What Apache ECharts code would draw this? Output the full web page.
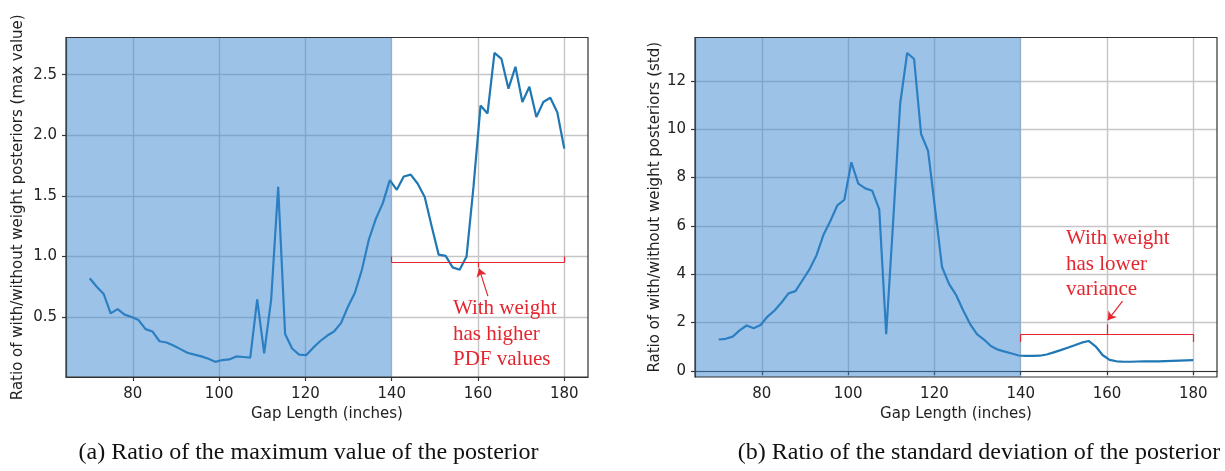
<!DOCTYPE html>
<html>
<head>
<meta charset="utf-8">
<script src="https://cdn.jsdelivr.net/npm/echarts@6/dist/echarts.min.js"></script>
<style>
  html, body { margin: 0; padding: 0; background: #ffffff; }
  #chart { width: 1225px; height: 471px; }
</style>
</head>
<body>
<div id="chart"></div>
<script>
// Gap lengths (inches) at which both ratios were evaluated
const gapLengths = [
  70.00, 71.62, 73.24, 74.85, 76.47, 78.09, 79.71, 81.32, 82.94, 84.56,
  86.18, 87.79, 89.41, 91.03, 92.65, 94.26, 95.88, 97.50, 99.12, 100.74,
  102.35, 103.97, 105.59, 107.21, 108.82, 110.44, 112.06, 113.68, 115.29, 116.91,
  118.53, 120.15, 121.76, 123.38, 125.00, 126.62, 128.24, 129.85, 131.47, 133.09,
  134.71, 136.32, 137.94, 139.56, 141.18, 142.79, 144.41, 146.03, 147.65, 149.26,
  150.88, 152.50, 154.12, 155.74, 157.35, 158.97, 160.59, 162.21, 163.82, 165.44,
  167.06, 168.68, 170.29, 171.91, 173.53, 175.15, 176.76, 178.38, 180.00
];

// (a) ratio of the posterior maximum, with / without weight
const maxRatio = [
  0.82, 0.75, 0.69, 0.53, 0.565, 0.52, 0.50, 0.475, 0.40, 0.38,
  0.30, 0.29, 0.265, 0.235, 0.205, 0.19, 0.175, 0.155, 0.13, 0.145,
  0.15, 0.175, 0.17, 0.165, 0.645, 0.20, 0.645, 1.575, 0.36, 0.24,
  0.19, 0.185, 0.245, 0.30, 0.345, 0.38, 0.45, 0.585, 0.70, 0.89,
  1.14, 1.31, 1.44, 1.63, 1.55, 1.66, 1.675, 1.60, 1.49, 1.25,
  1.015, 1.005, 0.91, 0.89, 1.00, 1.58, 2.245, 2.18, 2.68, 2.63,
  2.385, 2.565, 2.275, 2.40, 2.15, 2.275, 2.31, 2.19, 1.89
];

// (b) ratio of the posterior standard deviation, with / without weight
const stdRatio = [
  1.30, 1.33, 1.42, 1.68, 1.88, 1.77, 1.90, 2.25, 2.50, 2.83,
  3.21, 3.30, 3.75, 4.20, 4.78, 5.62, 6.20, 6.85, 7.08, 8.63,
  7.75, 7.55, 7.45, 6.68, 1.52, 6.20, 11.05, 13.15, 12.90, 9.80,
  9.10, 6.70, 4.30, 3.60, 3.15, 2.52, 1.95, 1.52, 1.30, 1.03,
  0.88, 0.80, 0.72, 0.64, 0.62, 0.62, 0.63, 0.68, 0.77, 0.86,
  0.96, 1.06, 1.17, 1.24, 1.02, 0.66, 0.46, 0.40, 0.38, 0.38,
  0.39, 0.40, 0.40, 0.40, 0.41, 0.42, 0.43, 0.44, 0.45
];

// Tick positions
const xTicks = [80, 100, 120, 140, 160, 180];
const maxTicks = [0.5, 1.0, 1.5, 2.0, 2.5];
const stdTicks = [0, 2, 4, 6, 8, 10, 12];

// Shared x range, the shaded span and the bracketed span
const xMin = 64.5;
const xMax = 185.5;
const shadeEnd = 140;
const bracketRange = [140, 180];

const LINE_BLUE = '#1f77b4';
const SHADE = 'rgba(58, 136, 207, 0.5)';
const RED = '#e3262f';
const TEXT = '#222222';
const SANS = '"DejaVu Sans"';
const SERIF = '"Liberation Serif"';

const chart = echarts.init(document.getElementById('chart'), null, { renderer: 'canvas' });

function xAxisFor(gridIndex) {
  return {
    type: 'value', gridIndex,
    min: xMin, max: xMax,
    name: 'Gap Length (inches)', nameLocation: 'middle', nameGap: 27,
    nameTextStyle: { fontFamily: SANS, fontSize: 15, color: TEXT },
    axisLine: { show: true, lineStyle: { color: '#333', width: 1.2 } },
    axisTick: { show: true, inside: false, length: 4, customValues: xTicks, lineStyle: { color: '#333', width: 1.2 } },
    axisLabel: { customValues: xTicks, margin: 10, fontFamily: SANS, fontSize: 15, color: TEXT, formatter: v => String(v) },
    splitLine: { show: true, lineStyle: { color: '#c6c6c6', width: 1.4 } }
  };
}

function yAxisFor(gridIndex, min, max, ticks, digits, name, nameGap) {
  return {
    type: 'value', gridIndex, min, max,
    name, nameLocation: 'middle', nameRotate: 90, nameGap,
    nameTextStyle: { fontFamily: SANS, fontSize: 15, color: TEXT },
    axisLine: { show: true, lineStyle: { color: '#333', width: 1.2 } },
    axisTick: { show: true, inside: false, length: 4, customValues: ticks, lineStyle: { color: '#333', width: 1.2 } },
    axisLabel: { customValues: ticks, margin: 9, fontFamily: SANS, fontSize: 15, color: TEXT, formatter: v => v.toFixed(digits) },
    splitLine: { show: true, lineStyle: { color: '#c6c6c6', width: 1.4 } }
  };
}

function pairs(ys) {
  return gapLengths.map((x, i) => [x, ys[i]]);
}

function curve(gridIndex, ys) {
  return {
    type: 'line', xAxisIndex: gridIndex, yAxisIndex: gridIndex,
    data: pairs(ys), showSymbol: false, symbol: 'none', smooth: false,
    lineStyle: { color: LINE_BLUE, width: 2.2 }, z: 2, silent: true, animation: false
  };
}

// Translucent band laid over the curve up to shadeEnd
function shade(gridIndex, ys) {
  return {
    type: 'line', xAxisIndex: gridIndex, yAxisIndex: gridIndex,
    data: pairs(ys), showSymbol: false, symbol: 'none',
    lineStyle: { opacity: 0 }, z: 3, silent: true, animation: false,
    markArea: {
      silent: true, z: 3,
      itemStyle: { color: SHADE },
      data: [[{ xAxis: xMin }, { xAxis: shadeEnd }]]
    }
  };
}

// Bracket over the unshaded range, with a short tick at its middle and an arrow
function bracket(gridIndex, yBar, yEnds, yMid, arrowFrom, arrowTo) {
  const mid = (bracketRange[0] + bracketRange[1]) / 2;
  const seg = (a, b) => [{ coord: a }, { coord: b }];
  return {
    type: 'line', xAxisIndex: gridIndex, yAxisIndex: gridIndex,
    data: [], z: 4, silent: true, animation: false,
    markLine: {
      silent: true, symbol: 'none', label: { show: false }, z: 5,
      lineStyle: { color: RED, width: 1.2, type: 'solid' },
      emphasis: { disabled: true },
      data: [
        seg([bracketRange[0], yEnds], [bracketRange[0], yBar]),
        seg([bracketRange[0], yBar], [bracketRange[1], yBar]),
        seg([bracketRange[1], yBar], [bracketRange[1], yEnds]),
        seg([mid, yBar], [mid, yMid]),
        [{ coord: arrowFrom, symbol: 'none' }, { coord: arrowTo, symbol: 'arrow', symbolSize: 8 }]
      ]
    }
  };
}

const option = {
  animation: false,
  backgroundColor: '#ffffff',
  grid: [
    { left: 66, top: 37.5, width: 522, height: 339.5, show: true, z: 10, borderColor: '#333', borderWidth: 1.2, backgroundColor: 'transparent' },
    { left: 695, top: 37.5, width: 522, height: 339.5, show: true, z: 10, borderColor: '#333', borderWidth: 1.2, backgroundColor: 'transparent' }
  ],
  xAxis: [xAxisFor(0), xAxisFor(1)],
  yAxis: [
    yAxisFor(0, 0.005, 2.807, maxTicks, 1, 'Ratio of with/without weight posteriors (max value)', 40),
    yAxisFor(1, -0.25, 13.79, stdTicks, 0, 'Ratio of with/without weight posteriors (std)', 29)
  ],
  series: [
    curve(0, maxRatio),
    shade(0, maxRatio),
    bracket(0, 0.95, 1.0, 0.91, [162.3, 0.673], [160.25, 0.90]),
    curve(1, stdRatio),
    shade(1, stdRatio),
    bracket(1, 1.515, 1.2, 1.93, [163.6, 2.89], [160.2, 2.10])
  ]
};

chart.setOption(option);

// Annotation texts anchored in data space, plus the figure captions
const leftNote = chart.convertToPixel({ xAxisIndex: 0, yAxisIndex: 0 }, [154.2, 0.674]);
const rightNote = chart.convertToPixel({ xAxisIndex: 1, yAxisIndex: 1 }, [150.5, 6.0]);

chart.setOption({
  graphic: [
    {
      type: 'text', x: leftNote[0], y: leftNote[1], z: 20, silent: true,
      style: { text: 'With weight\nhas higher\nPDF values', fontFamily: SERIF, fontSize: 21, lineHeight: 25.5, fill: RED }
    },
    {
      type: 'text', x: rightNote[0], y: rightNote[1], z: 20, silent: true,
      style: { text: 'With weight\nhas lower\nvariance', fontFamily: SERIF, fontSize: 21, lineHeight: 25.5, fill: RED }
    },
    {
      type: 'text', x: 308.5, y: 453, z: 20, silent: true,
      style: { text: '(a) Ratio of the maximum value of the posterior', fontFamily: SERIF, fontSize: 24, fill: '#111', align: 'center', verticalAlign: 'middle' }
    },
    {
      type: 'text', x: 979, y: 453, z: 20, silent: true,
      style: { text: '(b) Ratio of the standard deviation of the posterior', fontFamily: SERIF, fontSize: 24, fill: '#111', align: 'center', verticalAlign: 'middle' }
    }
  ]
});
</script>
</body>
</html>
